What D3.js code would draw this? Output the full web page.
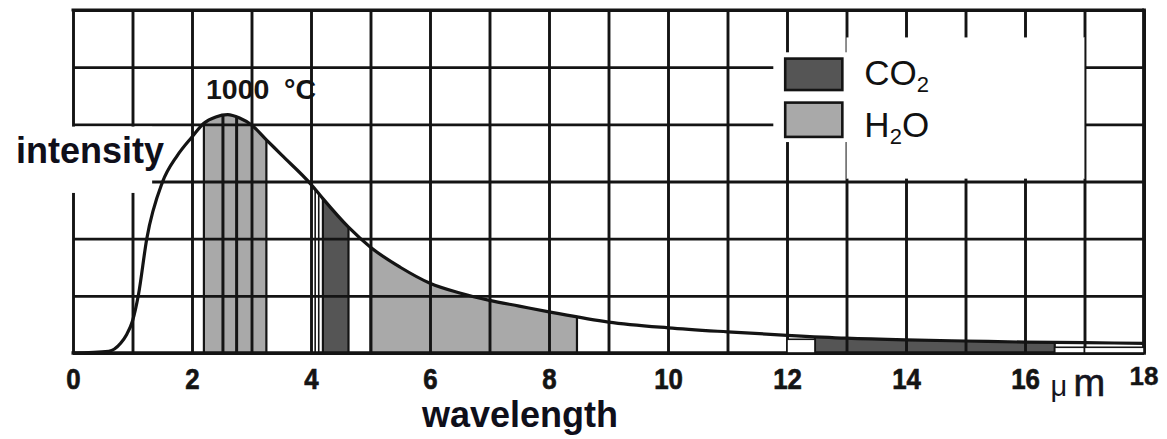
<!DOCTYPE html>
<html><head><meta charset="utf-8">
<script src="https://cdn.jsdelivr.net/npm/d3@7"></script>
<style>html,body{margin:0;padding:0;background:#fff}svg{display:block}</style>
</head><body>
<svg id="chart" width="1167" height="439"></svg>
<script>
// ---- data ----
const curveWavelength = [0, 0.6, 0.8, 0.9, 1.0, 1.1, 1.24, 1.5, 1.75, 2.0, 2.2, 2.4, 2.6, 2.8, 3.0, 3.25, 3.5, 4.0, 4.2, 4.63, 5.0, 5.5, 6.0, 6.5, 7.0, 7.5, 8.0, 9, 10, 11, 12, 13, 14, 15, 16, 17, 18];
const curveIntensity  = [0, 0.03, 0.17, 0.32, 0.56, 1.02, 2.0, 2.98, 3.45, 3.78, 4.02, 4.13, 4.17, 4.11, 3.99, 3.73, 3.47, 2.95, 2.7, 2.2, 1.85, 1.5, 1.22, 1.05, 0.92, 0.82, 0.72, 0.54, 0.44, 0.37, 0.31, 0.26, 0.23, 0.21, 0.19, 0.18, 0.17];
const h2oBands = [[2.2, 3.25], [5.0, 8.47]];
const co2Bands = [[4.2, 4.63], [12.47, 16.5]];
const bandDividers = [2.52, 2.75];
const thinDividers = [4.07, 4.13];
const outlineBoxes = [[12.0, 12.47, 0.24], [16.5, 17.0, 0.1], [17.0, 18.0, 0.1]];
const gridXValues = [0,1,2,3,4,5,6,7,8,9,10,11,12,13,14,15,16,17,18];
const gridYValues = [0,1,2,3,4,5,6];
const tickValues = [0,2,4,6,8,10,12,14,16];
const tickLabels = ["0","2","4","6","8","10","12","14","16"];
const lastTickLabel = "18";
const unitLabel = ["\u03bc","m"];
const xTitle = "wavelength";
const yTitle = "intensity";
const tempLabel = ["1000", "\u00b0C"];
const legendNames = [["CO","2",""],["H","2","O"]];
const legendColors = ["#555555", "#a9a9a9"];

// ---- drawing ----
const svg = d3.select("#chart");
const x = d3.scaleLinear().domain([0,18]).range([73,1144]);
const y = d3.scaleLinear().domain([0,6]).range([353,10]);
const pts = curveWavelength.map((w,i)=>[w, curveIntensity[i]]);
const ink = "#141414";
const FONT = "'Liberation Sans', Arial, Helvetica, sans-serif";

const line = d3.line().x(d=>x(d[0])).y(d=>y(d[1])).curve(d3.curveMonotoneX);
const area = d3.area().x(d=>x(d[0])).y0(y(0)).y1(d=>y(d[1])).curve(d3.curveMonotoneX);

const defs = svg.append("defs");
function band(range, color, id){
  defs.append("clipPath").attr("id", id).append("rect")
    .attr("x", x(range[0])).attr("y", y(6)).attr("width", x(range[1])-x(range[0])).attr("height", y(0)-y(6));
  svg.append("path").attr("d", area(pts)).attr("fill", color).attr("clip-path", `url(#${id})`);
}
h2oBands.forEach((b,i)=>band(b, legendColors[1], "h"+i));
co2Bands.forEach((b,i)=>band(b, legendColors[0], "c"+i));

// grid
const gx = svg.append("g").attr("transform",`translate(0,${y(0)})`)
  .call(d3.axisBottom(x).tickValues(gridXValues).tickSize(-(y(0)-y(6))).tickFormat(""));
gx.select(".domain").remove();
gx.selectAll("line").attr("stroke", ink).attr("stroke-width", 2.9);
const gy = svg.append("g").attr("transform",`translate(${x(0)},0)`)
  .call(d3.axisLeft(y).tickValues(gridYValues).tickSize(-(x(18)-x(0))).tickFormat(""));
gy.select(".domain").remove();
gy.selectAll("line").attr("stroke", ink).attr("stroke-width", 2.9);

// frame
svg.append("line").attr("x1",x(0)-1.5).attr("x2",x(18)).attr("y1",y(6)).attr("y2",y(6)).attr("stroke",ink).attr("stroke-width",3.2);
svg.append("line").attr("x1",x(0)-1.5).attr("x2",x(18)).attr("y1",y(0)).attr("y2",y(0)).attr("stroke",ink).attr("stroke-width",3.4);
svg.append("line").attr("x1",x(18)).attr("x2",x(18)).attr("y1",y(6)-1.6).attr("y2",y(0)+1.7).attr("stroke",ink).attr("stroke-width",3.8);

// white patches behind the y title and legend
svg.append("rect").attr("x",0).attr("y",y(3.96)).attr("width",x(1.33)).attr("height",y(2.8)-y(3.96)).attr("fill","#fff");
svg.append("rect").attr("x",x(13)).attr("y",y(5.52)).attr("width",x(17)-x(13)).attr("height",y(3.05)-y(5.52)).attr("fill","#fff");
svg.append("rect").attr("x",x(11.77)).attr("y",y(5.26)).attr("width",x(13)-x(11.77)+1).attr("height",y(3.69)-y(5.26)).attr("fill","#fff");
svg.append("line").attr("x1",x(13)).attr("x2",x(13)).attr("y1",y(3.69)).attr("y2",y(3.05)).attr("stroke","#777").attr("stroke-width",1);
svg.append("line").attr("x1",x(17)).attr("x2",x(17)).attr("y1",y(5.52)).attr("y2",y(3.05)).attr("stroke","#777").attr("stroke-width",1);

// curve value (linear between read points) for the heights of the dividers
function valAt(w){
  const i = d3.bisector(d=>d[0]).right(pts, w);
  const a = pts[Math.max(0,i-1)], b = pts[Math.min(pts.length-1,i)];
  if (b[0]===a[0]) return a[1];
  return a[1] + (b[1]-a[1])*(w-a[0])/(b[0]-a[0]);
}
[...h2oBands, ...co2Bands].forEach(b=>b.forEach(v=>{
  svg.append("line").attr("x1",x(v)).attr("x2",x(v)).attr("y1",y(0)).attr("y2",y(valAt(v)))
    .attr("stroke",ink).attr("stroke-width",2.2);
}));
bandDividers.forEach(v=>svg.append("line").attr("x1",x(v)).attr("x2",x(v)).attr("y1",y(0)).attr("y2",y(valAt(v)))
  .attr("stroke",ink).attr("stroke-width",3));
thinDividers.forEach(v=>svg.append("line").attr("x1",x(v)).attr("x2",x(v)).attr("y1",y(0)).attr("y2",y(valAt(v)))
  .attr("stroke",ink).attr("stroke-width",1.6));
outlineBoxes.forEach(b=>svg.append("rect").attr("x",x(b[0])).attr("y",y(b[2])).attr("width",x(b[1])-x(b[0])).attr("height",y(0)-y(b[2]))
  .attr("fill","#fff").attr("stroke",ink).attr("stroke-width",1.6));

// curve
svg.append("path").attr("d", line(pts)).attr("fill","none").attr("stroke",ink).attr("stroke-width",3.2).attr("stroke-linejoin","round");

// tick labels
const ax = svg.append("g").attr("transform",`translate(0,${y(0)})`)
  .call(d3.axisBottom(x).tickValues(tickValues).tickSize(0).tickFormat((d,i)=>tickLabels[i]));
ax.select(".domain").remove();
ax.selectAll("text").attr("y",36).attr("dy",0)
  .attr("font-family",FONT).attr("font-weight","bold").attr("font-size",30)
  .attr("fill",ink).attr("stroke",ink).attr("stroke-width",0.7).attr("transform","scale(0.86,1)");
svg.append("text").attr("x",x(18)).attr("y",385).attr("text-anchor","middle")
  .attr("font-family",FONT).attr("font-weight","bold").attr("font-size",26).attr("fill",ink)
  .attr("stroke",ink).attr("stroke-width",0.4)
  .text(lastTickLabel);
const u = svg.append("text").attr("y",396).attr("font-family",FONT).attr("fill","#15151f");
u.append("tspan").attr("x",x(16.43)).attr("font-size",29).text(unitLabel[0]);
u.append("tspan").attr("x",x(16.43)+23).attr("font-size",38).attr("stroke","#15151f").attr("stroke-width",0.6).text(unitLabel[1]);

// titles
svg.append("text").attr("x",520).attr("y",427).attr("text-anchor","middle")
  .attr("font-family",FONT).attr("font-weight","bold").attr("font-size",36).attr("fill","#0f0f1a")
  .text(xTitle);
svg.append("text").attr("x",90).attr("y",163).attr("text-anchor","middle")
  .attr("font-family",FONT).attr("font-weight","bold").attr("font-size",36).attr("fill","#0f0f1a")
  .text(yTitle);
const tl = svg.append("text").attr("y",99).attr("font-family",FONT).attr("font-weight","bold").attr("font-size",28.5).attr("fill",ink);
tl.append("tspan").attr("x",206).text(tempLabel[0]);
tl.append("tspan").attr("x",284).text(tempLabel[1]);

// legend
const legY = [[5.15,4.6,4.68],[4.38,3.78,3.78]];
legendNames.forEach((n,i)=>{
  svg.append("rect").attr("x",x(11.97)).attr("y",y(legY[i][0])).attr("width",x(12.93)-x(11.97)).attr("height",y(legY[i][1])-y(legY[i][0]))
    .attr("fill",legendColors[i]).attr("stroke",ink).attr("stroke-width",2.6);
  const t = svg.append("text").attr("x",x(13.3)).attr("y",y(legY[i][2]))
    .attr("font-family",FONT).attr("font-size",35).attr("fill","#111");
  t.append("tspan").text(n[0]);
  t.append("tspan").attr("font-size",22).attr("dy",7).text(n[1]);
  if (n[2]) t.append("tspan").attr("dy",-7).text(n[2]);
});
</script>
</body></html>
